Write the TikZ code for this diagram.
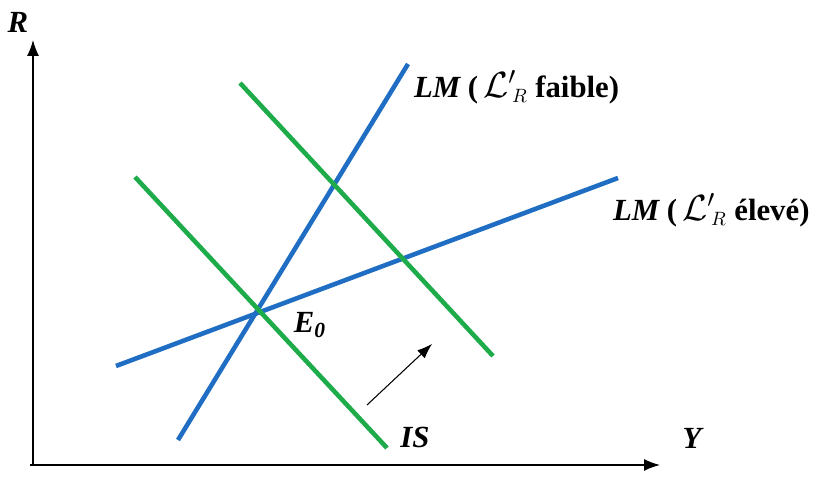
\documentclass[tikz,border=0pt]{standalone}
\usepackage{fontspec}
\usetikzlibrary{arrows.meta}
\setmainfont{Liberation Serif}
\definecolor{lmblue}{RGB}{31,110,195}
\definecolor{isgreen}{RGB}{30,172,75}
\tikzset{
  curve/.style={line width=2.6pt},
  lbl/.style={font=\fontsize{17.5}{20}\selectfont\bfseries\itshape, inner sep=1pt},
  tip/.style={-{Latex[length=3.2mm,width=2.4mm]}},
}
\newcommand{\liq}{{\upshape\fontsize{22}{24}\selectfont$\mathcal{L}^{\prime}{}_{\!\scriptscriptstyle R}$}}
\begin{document}
\begin{tikzpicture}[scale=1.0]
  \useasboundingbox (0,0) rectangle (16.3,9.54);
  % axes
  \coordinate (O) at (0.66,0.24);
  \coordinate (xs) at (0.6,0.24);
  \coordinate (xe) at (13.2,0.24);
  \coordinate (ye) at (0.66,8.74);
  \draw[tip,thick] (xs) -- (xe);
  \draw[tip,thick] (O) -- (ye);
  \node[lbl] (R) at (0.36,9.10) {R};
  \node[lbl] (Y) at (13.84,0.78) {Y};
  % LM curves: steep (L'_R low) and flat (L'_R high)
  \coordinate (lma) at (3.56,0.74);
  \coordinate (lmb) at (8.16,8.26);
  \coordinate (lmc) at (2.32,2.22);
  \coordinate (lmd) at (12.36,5.98);
  \draw[curve,lmblue] (lma) -- (lmb);
  \draw[curve,lmblue] (lmc) -- (lmd);
  % IS curves, before and after the shift
  \coordinate (isa) at (2.70,6.00);
  \coordinate (isb) at (7.74,0.58);
  \coordinate (isc) at (4.80,7.88);
  \coordinate (isd) at (9.86,2.42);
  \draw[curve,isgreen] (isa) -- (isb);
  \draw[curve,isgreen] (isc) -- (isd);
  % shift of IS
  \coordinate (sa) at (7.34,1.44);
  \coordinate (sb) at (8.64,2.66);
  \draw[-{Latex[length=3mm,width=2.2mm]},semithick] (sa) -- (sb);
  % labels
  \node[lbl,anchor=west] (lmlow) at (8.24,7.80)
    {LM {\upshape (\,\liq\ faible)}};
  \node[lbl,anchor=west] (lmhigh) at (12.22,5.34)
    {LM {\upshape (\,\liq\ élevé)}};
  \node[lbl] (E) at (6.2,3.04) {E\textsubscript{0}};
  \node[lbl] (IS) at (8.3,0.80) {IS};
\end{tikzpicture}
\end{document}
